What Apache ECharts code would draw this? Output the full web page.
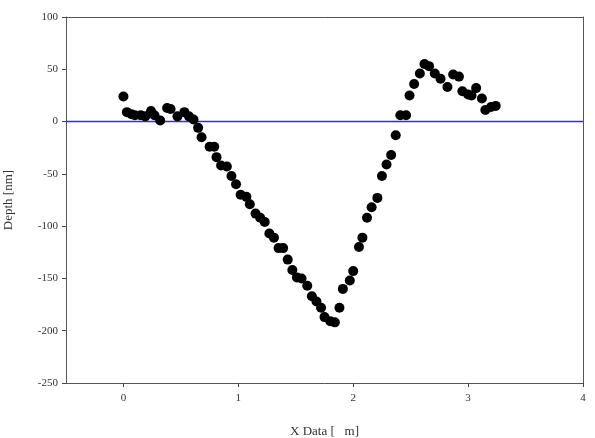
<!DOCTYPE html>
<html lang="en">
<head>
    <meta charset="UTF-8">
    <title>depth-profile</title>
    <script src="https://cdn.jsdelivr.net/npm/echarts@6.0.0/dist/echarts.min.js"></script>
</head>
<body style="margin:0">
<div id="main" style="width: 595px;height:438px;"></div>
<script>
    // 测量点 (X [um], Depth [nm])
    var xData = [0.00, 0.03, 0.07, 0.10, 0.15, 0.19, 0.24, 0.27, 0.32, 0.38, 0.41, 0.47, 0.53, 0.57, 0.61, 0.65,
        0.68, 0.75, 0.79, 0.81, 0.85, 0.90, 0.94, 0.98, 1.02, 1.07, 1.10, 1.15, 1.19, 1.23, 1.27, 1.31,
        1.35, 1.39, 1.43, 1.47, 1.51, 1.55, 1.60, 1.64, 1.68, 1.72, 1.75, 1.80, 1.84, 1.88, 1.91, 1.97,
        2.00, 2.05, 2.08, 2.12, 2.16, 2.21, 2.25, 2.29, 2.33, 2.37, 2.41, 2.46, 2.49, 2.53, 2.58, 2.62,
        2.66, 2.71, 2.76, 2.82, 2.87, 2.92, 2.95, 3.00, 3.03, 3.07, 3.12, 3.15, 3.20, 3.24];
    var depth = [24, 9, 7, 6, 6, 5, 10, 6, 1, 13, 12, 5, 9, 5, 2, -6,
        -15, -24, -24, -34, -42, -43, -52, -60, -70, -72, -79, -88, -92, -96, -107, -111,
        -121, -121, -132, -142, -149, -150, -157, -167, -172, -178, -187, -191, -192, -178, -160, -152,
        -143, -120, -111, -92, -82, -73, -52, -41, -32, -13, 6, 6, 25, 36, 46, 55,
        53, 46, 41, 33, 45, 43, 29, 26, 25, 32, 22, 11, 14, 15];
    var xTicks = [0, 1, 2, 3, 4];
    var yTicks = [100, 50, 0, -50, -100, -150, -200, -250];
    var zeroLine = [[-0.5, 0], [4, 0]];

    var points = xData.map(function (x, i) { return [x, depth[i]]; });
    var font = 'Liberation Serif';
    var frame = { show: true, onZero: false, lineStyle: { color: '#555', width: 1 } };

    var chart = echarts.init(document.getElementById("main"));
    var option = {
        backgroundColor: '#fff',
        animation: false,
        textStyle: { fontFamily: font },
        grid: {
            left: 66, right: 12, top: 17, bottom: 55,
            outerBoundsMode: 'none',
            containLabel: false
        },
        xAxis: [{
            type: 'value',
            position: 'bottom',
            min: -0.5, max: 4, interval: 0.5,
            name: 'X Data [   m]',
            nameLocation: 'middle',
            nameGap: 42,
            nameTextStyle: { color: '#333', fontSize: 13, fontFamily: font },
            axisLine: frame,
            axisTick: { show: true, inside: false, length: 4, customValues: xTicks,
                lineStyle: { color: '#444', width: 1 } },
            axisLabel: { color: '#333', fontSize: 11, fontFamily: font, margin: 10,
                customValues: xTicks },
            splitLine: { show: false }
        }, {
            type: 'value',
            position: 'top',
            min: -0.5, max: 4, interval: 0.5,
            axisLine: frame,
            axisTick: { show: false },
            axisLabel: { show: false },
            splitLine: { show: false }
        }],
        yAxis: [{
            type: 'value',
            position: 'left',
            min: -250, max: 100, interval: 50,
            name: 'Depth [nm]',
            nameLocation: 'middle',
            nameGap: 51,
            nameRotate: 90,
            nameTextStyle: { color: '#333', fontSize: 13, fontFamily: font },
            axisLine: frame,
            axisTick: { show: true, inside: false, length: 4, customValues: yTicks,
                lineStyle: { color: '#444', width: 1 } },
            axisLabel: { color: '#333', fontSize: 11, fontFamily: font, margin: 8 },
            splitLine: { show: false }
        }, {
            type: 'value',
            position: 'right',
            min: -250, max: 100, interval: 50,
            axisLine: frame,
            axisTick: { show: false },
            axisLabel: { show: false },
            splitLine: { show: false }
        }],
        series: [{
            type: 'line',
            data: zeroLine,
            symbol: 'none',
            silent: true,
            z: 1,
            lineStyle: { color: '#2b2bff', width: 1.5 }
        }, {
            type: 'scatter',
            symbolSize: 10,
            z: 2,
            itemStyle: { color: '#000', opacity: 1 },
            data: points
        }]
    };
    chart.setOption(option);
</script>
</body>
</html>
